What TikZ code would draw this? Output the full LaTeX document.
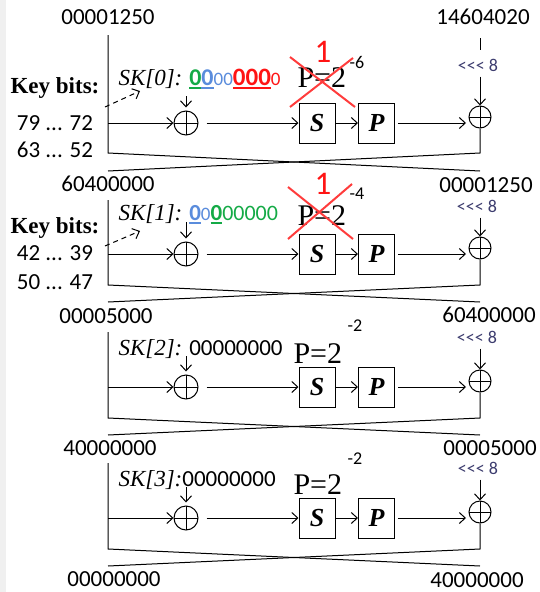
\documentclass[tikz,border=0pt]{standalone}
\usepackage{fontspec}
\setmainfont{Carlito}
\newfontfamily\serif{Liberation Serif}
\usetikzlibrary{arrows.meta}
\definecolor{cg}{RGB}{20,170,70}
\definecolor{cb}{RGB}{90,140,220}
\definecolor{cr}{RGB}{255,20,20}
\definecolor{rx}{RGB}{255,60,60}
\definecolor{rotc}{RGB}{60,60,110}
\newcommand\ulc[2]{\setbox0\hbox{#2}\rlap{\color{#1}\rule[-3.5pt]{\wd0}{1.8pt}}\box0}
\newcommand\fsz[1]{\fontsize{#1}{#1}\selectfont}
\newcommand\rottxt{<\kern0pt<\kern0pt< 8}
\newcommand\feist[5]{%
  \coordinate (lt#1) at (108,#3);
  \coordinate (lm#1) at (108,#2);
  \coordinate (lc#1) at (108,#4);
  \coordinate (lb#1) at (108,#5);
  \coordinate (rc#1) at (480,#4);
  \coordinate (rb#1) at (480,#5);
  \coordinate (xa#1) at (466,#2);
  \node[xorop] (xl#1) at (186,#2) {};
  \node[xorop,minimum size=22pt] (xr#1) at (480,{#2-6}) {};
  \node[sbox] (s#1) at (317,#2) {S};
  \node[sbox] (p#1) at (376.5,#2) {P};
  \draw (lt#1) -- (lc#1) -- (rb#1);
  \draw (xr#1.south) -- (rc#1) -- (lb#1);
  \draw[arr] (lm#1) -- (xl#1.west);
  \draw[arr,shorten <=8pt] (xl#1.east) -- (s#1.west);
  \draw[arr] (s#1.east) -- (p#1.west);
  \draw[arr,shorten <=3pt] (p#1.east) -- (xa#1);
}
\begin{document}
\begin{tikzpicture}[x=1pt,y=-1pt,line width=1pt,
  arr/.style={-{Straight Barb[length=6pt,width=11pt]}},
  dasharr/.style={arr,dash pattern=on 5pt off 4pt},
  xorop/.style={circle,draw,minimum size=24pt,inner sep=0pt,
    path picture={\draw[line width=1pt] (path picture bounding box.north) -- (path picture bounding box.south)
      (path picture bounding box.west) -- (path picture bounding box.east);}},
  sbox/.style={draw,minimum width=36pt,minimum height=40pt,inner sep=0pt,
    font=\serif\bfseries\itshape\fsz{26}},
  lab/.style={inner sep=0pt,font=\fsz{23}},
  kbf/.style={inner sep=0pt,font=\serif\bfseries\fsz{23}},
  rot/.style={inner sep=1pt,font=\fsz{18},text=rotc},
  skf/.style={inner sep=0pt,anchor=base west,font=\fsz{23}},
  pf/.style={inner sep=0pt,anchor=base west,font=\serif\fsz{30}},
  supf/.style={inner sep=0pt,font=\fsz{18}},
  onef/.style={inner sep=0pt,font=\fsz{33},text=cr},
  redx/.style={draw=rx,line width=2pt}]
\useasboundingbox (0,0) rectangle (539,592);
\fill[gray!12] (0,0) rectangle (6,592);

% value labels
\node[lab] (l1) at (108,17) {00001250};
\node[lab] (r1) at (483,17) {14604020};
\node[lab] (l2) at (108,184) {60400000};
\node[lab] (r2) at (486,185) {00001250};
\node[lab] (l3) at (106,316) {00005000};
\node[lab] (r3) at (489,315) {60400000};
\node[lab] (l4) at (110,448) {40000000};
\node[lab] (r4) at (490,448) {00005000};
\node[lab] (l5) at (114,579) {00000000};
\node[lab] (r5) at (477,580) {40000000};

% rounds
\feist{1}{123}{35}{153}{171}
\feist{2}{254}{200}{285}{302}
\feist{3}{387}{332}{418}{435}
\feist{4}{518}{463}{549}{566}

% rotations
\node[rot] (ro1) at (478,65) {\rottxt};
\node[rot] (ro2) at (477,206) {\rottxt};
\node[rot] (ro3) at (477,337) {\rottxt};
\node[rot] (ro4) at (478,468) {\rottxt};
\coordinate (rsa) at (480,38);
\coordinate (rsb) at (480,50);
\draw (rsa) -- (rsb);
\foreach \i in {1,2,3,4}{\draw[arr,shorten <=4pt] (ro\i.south -| xr\i.north) -- (xr\i.north);}

% key bits
\node[kbf,anchor=base] (kb1) at (55,93) {Key bits:};
\node[lab] (kr1a) at (55,123) {79 ... 72};
\node[lab] (kr1b) at (55,150) {63 ... 52};
\node[kbf,anchor=base] (kb2) at (55,233) {Key bits:};
\node[lab] (kr2a) at (55,253) {42 ... 39};
\node[lab] (kr2b) at (55,282) {50 ... 47};
\coordinate (kd1a) at (105,107);
\coordinate (kd1b) at (140,91);
\coordinate (kd2a) at (105,246);
\coordinate (kd2b) at (140,231);
\draw[dasharr] (kd1a) -- (kd1b);
\draw[dasharr] (kd2a) -- (kd2b);

% subkeys
\node[skf] (sk1) at (118,85) {{\serif\itshape SK[0]:} \ulc{cg}{\color{cg}\bfseries\fsz{24}0}\ulc{cb}{\color{cb}\bfseries\fsz{24}0}{\fsz{19}00}\ulc{cr}{\color{cr}\bfseries\fsz{25}000}{\fsz{19}0}};
\node[skf] (sk2) at (118,220) {{\serif\itshape SK[1]:} \ulc{cb}{\color{cb}\bfseries 0}{\fsz{19}0}\ulc{cg}{\color{cg}\bfseries 0}{\fsz{22}00000}};
\node[skf] (sk3) at (118,355) {{\serif\itshape SK[2]:} 00000000};
\node[skf] (sk4) at (118,486) {{\serif\itshape SK[3]:}00000000};
\coordinate (ka1) at (186,96);
\coordinate (ka2) at (186,222);
\coordinate (ka3) at (186,356);
\coordinate (ka4) at (186,487);
\foreach \i in {1,2,3,4}{\draw[arr,shorten >=3pt] (ka\i) -- (xl\i.north);}

% probabilities
\node[pf] (pe1) at (297,87) {P=2};
\node[supf] (e1) at (357,62) {-6};
\node[pf] (pe2) at (297,225) {P=2};
\node[supf] (e2) at (357,194) {-4};
\node[pf] (pe3) at (293,363) {P=2};
\node[supf] (e3) at (355,326) {-2};
\node[pf] (pe4) at (293,494) {P=2};
\node[supf] (e4) at (355,459) {-2};

% red corrections
\draw[redx] (290,57) -- (355,107);
\draw[redx] (290,107) -- (353,58);
\node[onef] (one1) at (323,52) {1};
\draw[redx] (288,187) -- (353,239);
\draw[redx] (288,239) -- (352,184);
\node[onef] (one2) at (323,184) {1};
\end{tikzpicture}
\end{document}
